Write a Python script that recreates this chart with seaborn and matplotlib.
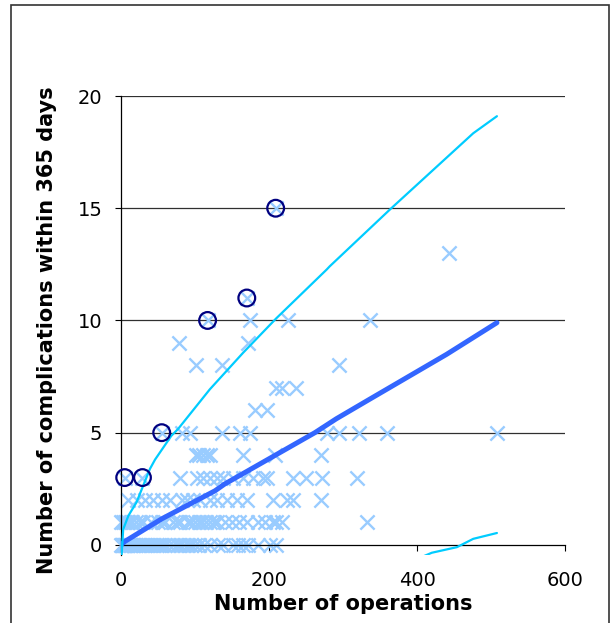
import numpy as np
import pandas as pd
import matplotlib
matplotlib.use("Agg")
import matplotlib.pyplot as plt
from matplotlib.patches import Rectangle
import seaborn as sns

# Surgeons: number of operations vs complications within 365 days, grouped by complication count
ops_0 = [0, 1, 2, 3, 4, 5, 6, 8, 10, 12, 14, 16, 18, 20, 23, 26, 30, 33, 36, 40, 44, 48,
         52, 56, 60, 65, 70, 75, 80, 85, 90, 95, 100, 106, 112, 120, 131, 138, 151, 158,
         165, 172, 185, 201, 210]
ops_1 = [0, 3, 5, 8, 10, 13, 15, 20, 25, 30, 40, 50, 55, 60, 70, 75, 80, 90, 95, 100, 105,
         110, 115, 120, 125, 130, 140, 150, 160, 170, 185, 195, 205, 210, 218, 333]
ops_2 = [9, 22, 32, 43, 55, 66, 82, 89, 97, 107, 120, 130, 143, 157, 170, 205, 224, 232, 270]
ops_3 = [5, 29, 80, 103, 111, 120, 130, 138, 151, 165, 178, 192, 197, 232, 250, 272, 319]
ops_4 = [102, 106, 111, 116, 120, 165, 208, 270]
ops_5 = [55, 82, 93, 136, 161, 174, 278, 294, 322, 359, 508]
ops_6 = [181, 197]
ops_7 = [210, 217, 237]
ops_8 = [102, 136, 294]
ops_9 = [78, 172]
ops_10 = [117, 174, 226, 336]
ops_11 = [170]
ops_13 = [443]
ops_15 = [209]

# Surgeons above the upper control limit
flag_ops = [5, 29, 55, 117, 170, 209]
flag_comps = [3, 3, 5, 10, 11, 15]

# Expected complications and control limits
exp_ops = [0, 5, 55, 127, 140, 262, 291, 336, 440, 508]
exp_comps = [0.0, 0.15, 1.16, 2.41, 2.71, 5.0, 5.62, 6.49, 8.49, 9.9]
ucl_ops = [0.5, 3, 10, 21, 39, 46, 68, 77, 120, 165, 210, 278, 282, 363, 476, 508]
ucl_comps = [-0.6, 0.7, 1.3, 1.9, 3.38, 3.8, 4.86, 5.16, 6.93, 8.56, 10.1, 12.27, 12.41,
             14.93, 18.34, 19.1]
lcl_ops = [395, 420, 454, 476, 508]
lcl_comps = [-0.7, -0.35, -0.1, 0.27, 0.53]

x_ticks = [0, 200, 400, 600]
y_ticks = [0, 5, 10, 15, 20]

groups = {0: ops_0, 1: ops_1, 2: ops_2, 3: ops_3, 4: ops_4, 5: ops_5, 6: ops_6, 7: ops_7,
          8: ops_8, 9: ops_9, 10: ops_10, 11: ops_11, 13: ops_13, 15: ops_15}
points = pd.DataFrame([(x, c) for c, xs in groups.items() for x in xs],
                      columns=["operations", "complications"])
flags = pd.DataFrame({"operations": flag_ops, "complications": flag_comps})
expected = pd.DataFrame({"operations": exp_ops, "complications": exp_comps})
upper = pd.DataFrame({"operations": ucl_ops, "complications": ucl_comps})
lower = pd.DataFrame({"operations": lcl_ops, "complications": lcl_comps})

sns.set_theme(style="white")
plt.rcParams["font.family"] = ["DejaVu Sans"]

W, H = 615, 623
fig = plt.figure(figsize=(W / 100, H / 100), dpi=100)
ax = fig.add_axes([121 / W, 1 - 555 / H, (565 - 121) / W, (555 - 96) / H])

for y in y_ticks[1:]:
    ax.axhline(y, color="#303030", lw=0.9, zorder=0)

sns.scatterplot(data=points, x="operations", y="complications", marker="x",
                color="#99CCFF", s=105, linewidth=1.7, ax=ax, zorder=2, clip_on=False)
sns.lineplot(data=expected, x="operations", y="complications", color="#3366FF",
             lw=3.6, ax=ax, zorder=3, sort=False)
sns.lineplot(data=upper, x="operations", y="complications", color="#00CCFF",
             lw=1.6, ax=ax, zorder=3, sort=False)
sns.lineplot(data=lower, x="operations", y="complications", color="#00CCFF",
             lw=1.6, ax=ax, zorder=3, sort=False)
sns.scatterplot(data=flags, x="operations", y="complications", marker="o",
                facecolor="none", edgecolor="#000080", s=145, linewidth=1.6, ax=ax,
                zorder=4, clip_on=False)

ax.set_xlim(0, 600)
ax.set_ylim(-0.45, 20)
ax.set_xticks(x_ticks)
ax.set_yticks(y_ticks)
ax.spines["top"].set_visible(False)
ax.spines["right"].set_visible(False)
ax.spines["bottom"].set_position(("data", 0))
for s in ("left", "bottom"):
    ax.spines[s].set_color("black")
    ax.spines[s].set_linewidth(0.9)
ax.tick_params(axis="both", which="major", direction="out", length=4.5, width=0.8,
               color="black", labelsize=14, labelcolor="black")
ax.tick_params(axis="y", pad=9)
ax.tick_params(axis="x", pad=14)
ax.tick_params(axis="both", left=True, bottom=True)

ax.set_xlabel("Number of operations", fontsize=15, fontweight="bold", color="black")
ax.set_ylabel("Number of complications within 365 days", fontsize=15,
              fontweight="bold", color="black")
ax.xaxis.set_label_coords(0.5, -0.085)
ax.yaxis.set_label_coords(-0.145, 0.49)

fig.patches.append(Rectangle((10.5 / W, -0.05), (609 - 10.5) / W, 1.05 - 4.5 / H,
                             transform=fig.transFigure, fill=False,
                             edgecolor="#333333", lw=1.2))

fig.savefig("out.png", dpi=100)
